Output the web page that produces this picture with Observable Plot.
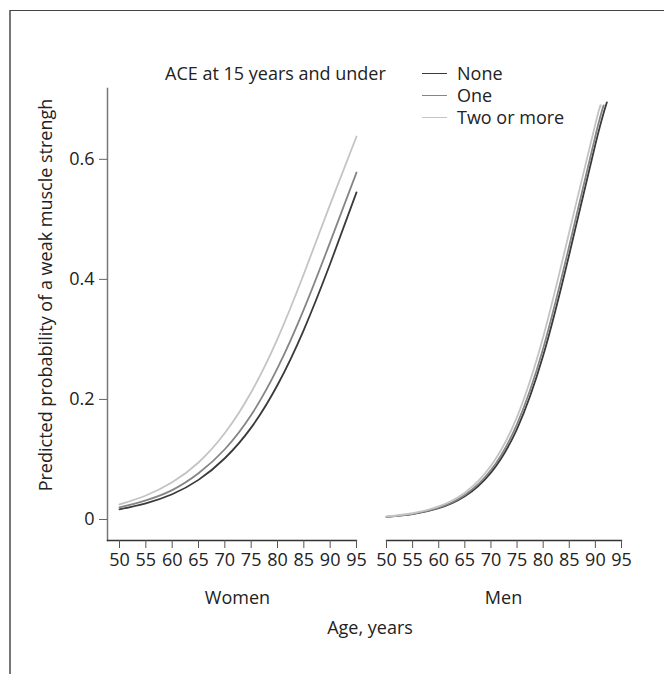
<!DOCTYPE html>
<html><head><meta charset="utf-8">
<script src="https://cdn.jsdelivr.net/npm/d3@7"></script>
<script src="https://cdn.jsdelivr.net/npm/@observablehq/plot@0.6"></script>
<style>
body{margin:0;background:#fff;}
#wrap{position:relative;width:664px;height:674px;overflow:hidden;font-family:"Open Sans",sans-serif;color:#222;}
#border{position:absolute;left:9px;top:10px;width:700px;height:700px;border-top:1.5px solid #444;border-left:2px solid #777;}
.t{position:absolute;font-size:18px;white-space:nowrap;line-height:1;}
.lg{position:absolute;width:25px;height:0;}
svg{position:absolute;top:0;}
</style></head>
<body><div id="wrap"><div id="border"></div></div>
<script>
const groups = ["None", "One", "Two or more"];
const groupColors = ["#3a3a3a", "#858585", "#c4c4c4"];
const legendTitle = "ACE at 15 years and under";
const yTitle = "Predicted probability of a weak muscle strengh";
const xTitle = "Age, years";
const panels = ["Women", "Men"];
const xTicks = [50, 55, 60, 65, 70, 75, 80, 85, 90, 95];
const yTicks = [0, 0.2, 0.4, 0.6];
const yTickLabels = ["0", "0.2", "0.4", "0.6"];

// Women
const womenAges = [50, 55, 60, 65, 70, 75, 80, 85, 90, 95];
const womenNone = [0.017, 0.027, 0.042, 0.066, 0.102, 0.153, 0.224, 0.316, 0.426, 0.545];
const womenOne  = [0.020, 0.032, 0.049, 0.077, 0.117, 0.174, 0.252, 0.350, 0.462, 0.578];
const womenTwo  = [0.025, 0.040, 0.062, 0.095, 0.144, 0.212, 0.301, 0.409, 0.525, 0.638];

// Men
const menAgesNone = [50, 55, 60, 65, 70, 75, 80, 85, 90, 92.2];
const menNone = [0.0043, 0.009, 0.0187, 0.0386, 0.078, 0.151, 0.273, 0.442, 0.625, 0.695];
const menAgesOne = [50, 55, 60, 65, 70, 75, 80, 85, 90, 91.6];
const menOne  = [0.0045, 0.0095, 0.0198, 0.0409, 0.0824, 0.159, 0.285, 0.456, 0.639, 0.690];
const menAgesTwo = [50, 55, 60, 65, 70, 75, 80, 85, 90, 91];
const menTwo  = [0.005, 0.0104, 0.0217, 0.0446, 0.0895, 0.171, 0.304, 0.479, 0.659, 0.688];

function rows(ages, vals, group) { return ages.map((a, i) => ({age: a, p: vals[i], group})); }
const women = [...rows(womenAges, womenNone, groups[0]), ...rows(womenAges, womenOne, groups[1]), ...rows(womenAges, womenTwo, groups[2])];
const men = [...rows(menAgesNone, menNone, groups[0]), ...rows(menAgesOne, menOne, groups[1]), ...rows(menAgesTwo, menTwo, groups[2])];

const yDomain = [-0.035, 0.718];
const H = 620;
const common = {
  height: H, marginTop: 88, marginBottom: 80,
  color: {domain: groups, range: groupColors},
  style: {fontFamily: "'Open Sans', sans-serif", fontSize: "18px", color: "#222", overflow: "visible", background: "transparent"}
};
const lineOpts = {x: "age", y: "p", z: "group", stroke: "group", strokeWidth: 1.8, curve: "natural"};
const xAxisOpts = {ticks: xTicks, tickSize: 8, tickPadding: 5, stroke: "#555", fill: "#222", label: null, fontSize: 18};

const wrap = document.getElementById("wrap");

const pw = Plot.plot({
  ...common, width: 370, marginLeft: 107, marginRight: 14,
  x: {domain: [47.72, 95]},
  y: {domain: yDomain},
  marks: [
    Plot.line(women, lineOpts),
    Plot.frame({anchor: "left", stroke: "#777", strokeWidth: 1.5}),
    Plot.frame({anchor: "bottom", stroke: "#333", strokeWidth: 1.3}),
    Plot.axisX(xAxisOpts),
    Plot.axisY({ticks: yTicks, tickFormat: (d, i) => yTickLabels[i], tickSize: 8, tickPadding: 5, stroke: "#666", fill: "#222", label: null, fontSize: 18})
  ]
});
pw.style.left = "0px";
wrap.appendChild(pw);

const pm = Plot.plot({
  ...common, width: 294, marginLeft: 16, marginRight: 43,
  x: {domain: [50, 95]},
  y: {domain: yDomain, axis: null},
  marks: [
    Plot.line(men, lineOpts),
    Plot.frame({anchor: "bottom", stroke: "#333", strokeWidth: 1.3}),
    Plot.axisX(xAxisOpts)
  ]
});
pm.style.left = "370px";
wrap.appendChild(pm);

function addText(str, left, top, center, extra) {
  const d = document.createElement("div");
  d.className = "t";
  d.textContent = str;
  d.style.left = left + "px";
  d.style.top = top + "px";
  d.style.transform = (center ? "translate(-50%,-50%)" : "translateY(-50%)") + (extra || "");
  wrap.appendChild(d);
}
addText(yTitle, 45, 295, true, " rotate(-90deg)");
addText(legendTitle, 165, 73, false);
const legendY = [73, 95, 117];
groups.forEach((g, i) => {
  const l = document.createElement("div");
  l.className = "lg";
  l.style.left = "422px";
  l.style.top = legendY[i] + "px";
  l.style.borderTop = "1.6px solid " + groupColors[i];
  wrap.appendChild(l);
  addText(g, 457, legendY[i], false);
});
addText(panels[0], 237.5, 597, true);
addText(panels[1], 503.5, 597, true);
addText(xTitle, 370, 627, true);
</script>
</body></html>
